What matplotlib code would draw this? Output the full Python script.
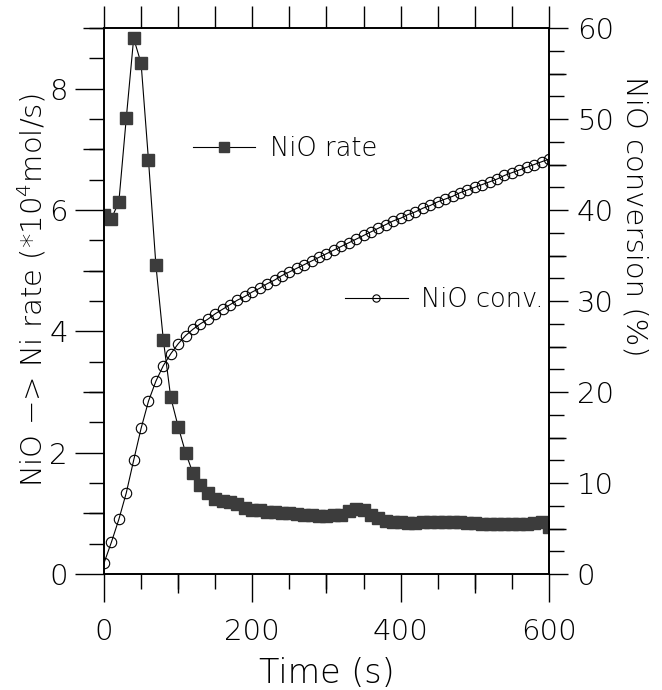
import matplotlib
matplotlib.use("Agg")
import matplotlib.pyplot as plt
from matplotlib.ticker import MultipleLocator

# time axis (s), one sample every 10 s
time_s = [0, 10, 20, 30, 40, 50, 60, 70, 80, 90,
          100, 110, 120, 130, 140, 150, 160, 170, 180, 190,
          200, 210, 220, 230, 240, 250, 260, 270, 280, 290,
          300, 310, 320, 330, 340, 350, 360, 370, 380, 390,
          400, 410, 420, 430, 440, 450, 460, 470, 480, 490,
          500, 510, 520, 530, 540, 550, 560, 570, 580, 590, 600]

# NiO -> Ni rate (*10^4 mol/s), left axis
rate = [5.91, 5.86, 6.13, 7.51, 8.83, 8.42, 6.82, 5.09, 3.86, 2.91,
        2.43, 2.00, 1.66, 1.46, 1.33, 1.24, 1.21, 1.18, 1.15, 1.09,
        1.06, 1.05, 1.03, 1.02, 1.01, 1.00, 0.99, 0.98, 0.97, 0.96,
        0.96, 0.97, 0.98, 1.04, 1.07, 1.05, 0.98, 0.92, 0.88, 0.86,
        0.85, 0.84, 0.84, 0.85, 0.85, 0.86, 0.86, 0.85, 0.85, 0.84,
        0.84, 0.83, 0.83, 0.82, 0.82, 0.82, 0.83, 0.83, 0.84, 0.86, 0.77]

# NiO conversion (%), right axis
conversion = [1.2, 3.5, 6.0, 8.9, 12.5, 16.0, 19.0, 21.2, 22.9, 24.2,
              25.3, 26.2, 26.9, 27.5, 28.0, 28.6, 29.1, 29.6, 30.1, 30.5,
              31.0, 31.4, 31.9, 32.3, 32.8, 33.2, 33.6, 34.0, 34.4, 34.8,
              35.2, 35.6, 36.0, 36.4, 36.8, 37.2, 37.6, 38.0, 38.4, 38.8,
              39.1, 39.5, 39.8, 40.2, 40.5, 40.9, 41.2, 41.5, 41.9, 42.2,
              42.5, 42.8, 43.1, 43.4, 43.8, 44.1, 44.4, 44.7, 45.0, 45.3, 45.6]

plt.rcParams["font.family"] = ["DejaVu Sans"]
plt.rcParams["font.weight"] = 200
plt.rcParams["axes.labelweight"] = 200
plt.rcParams["mathtext.fontset"] = "custom"
plt.rcParams["mathtext.rm"] = "DejaVu Sans:weight=200"
plt.rcParams["mathtext.default"] = "rm"

fig = plt.figure(figsize=(6.62, 6.9), dpi=100)
ax = fig.add_axes([0.1571, 0.1681, 0.6722, 0.7913])
ax2 = ax.twinx()

rate_line, = ax.plot(time_s, rate, color="black", lw=0.8, marker="s", ms=8.6,
                     mfc="#3c3c3c", mec="#3c3c3c", label="NiO rate")
conv_line, = ax2.plot(time_s, conversion, color="black", lw=0.8, marker="o", ms=7.5,
                      mfc="none", mec="black", mew=0.8, label="NiO conv.")

ax.set_xlim(0, 600)
ax.set_ylim(0, 9)
ax2.set_ylim(0, 60)

for a in (ax, ax2):
    for s in a.spines.values():
        s.set_linewidth(1.2)

# bottom / left ticks
ax.xaxis.set_major_locator(MultipleLocator(200))
ax.xaxis.set_minor_locator(MultipleLocator(50))
ax.yaxis.set_major_locator(MultipleLocator(2))
ax.yaxis.set_minor_locator(MultipleLocator(0.5))
ax.tick_params(axis="x", which="major", direction="out", length=20, width=1, labelsize=21, pad=12)
ax.tick_params(axis="x", which="minor", direction="out", length=11, width=1)
ax.tick_params(axis="y", which="major", direction="out", length=21, width=1, labelsize=21, pad=5)
ax.tick_params(axis="y", which="minor", direction="out", length=11, width=1)

# medium ticks
sx = ax.secondary_xaxis("bottom")
sx.set_xticks([100, 300, 500])
sx.tick_params(length=14, width=1, labelbottom=False)
sy = ax.secondary_yaxis("left")
sy.set_yticks([1, 3, 5, 7, 9])
sy.tick_params(length=15, width=1, labelleft=False)
top = ax.secondary_xaxis("top")
top.xaxis.set_major_locator(MultipleLocator(50))
top.tick_params(length=16, width=1, labeltop=False)
for sec in (sx, sy, top):
    for s in sec.spines.values():
        s.set_visible(False)

# right ticks
ax2.yaxis.set_major_locator(MultipleLocator(10))
ax2.yaxis.set_minor_locator(MultipleLocator(2.5))
ax2.tick_params(axis="y", which="major", direction="out", length=14, width=1, labelsize=21, pad=6)
ax2.tick_params(axis="y", which="minor", direction="out", length=11, width=1)
sr = ax2.secondary_yaxis("right")
sr.set_yticks([5, 15, 25, 35, 45, 55])
sr.tick_params(length=12, width=1, labelright=False)
for s in sr.spines.values():
    s.set_visible(False)

ax.set_xlabel("Time (s)", fontsize=24)
ax.xaxis.set_label_coords(0.5, -0.152)
ax.set_ylabel("NiO \u2212> Ni rate (*10$^{4}$mol/s)", fontsize=21)
ax.yaxis.set_label_coords(-0.125, 0.52)
ax2.set_ylabel("NiO conversion (%)", fontsize=21, rotation=270, va="bottom")
ax2.yaxis.set_label_coords(1.16, 0.655)

ax.legend(handles=[rate_line], loc="center left", bbox_to_anchor=(0.2, 0.78),
          frameon=False, fontsize=18.5, handlelength=2.4, handletextpad=0.6,
          borderpad=0, borderaxespad=0, markerscale=0.9)
ax2.legend(handles=[conv_line], loc="center left", bbox_to_anchor=(0.5416, 0.502),
           frameon=False, fontsize=18.5, handlelength=2.45, handletextpad=0.5,
           borderpad=0, borderaxespad=0, markerscale=0.7)

fig.savefig("out.png", dpi=100)
